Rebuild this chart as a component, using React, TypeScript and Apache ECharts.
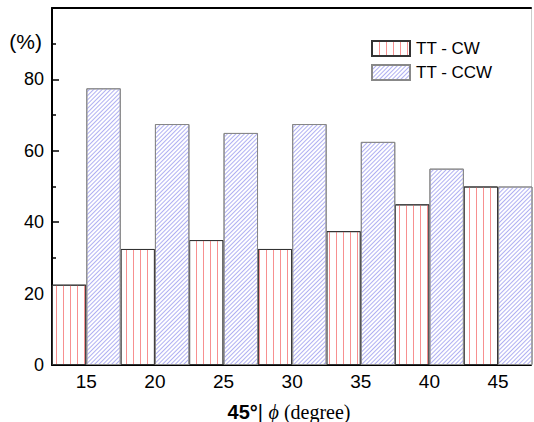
import React, { useEffect, useRef } from "react";
import * as echarts from "echarts";

const categories = [15, 20, 25, 30, 35, 40, 45];
const cwValues = [22.5, 32.5, 35, 32.5, 37.5, 45, 50];
const ccwValues = [77.5, 67.5, 65, 67.5, 62.5, 55, 50];
const seriesNames = ["TT - CW", "TT - CCW"];
const yUnitLabel = "(%)";

const X_MIN = 12.5;
const X_MAX = 47.4;
const GRID_LEFT = 52;
const GRID_RIGHT = 1;
const WIDTH = 534;
const HEIGHT = 422;

export default function App() {
  const ref = useRef<HTMLDivElement>(null);
  useEffect(() => {
    if (!ref.current) return;
    const chart = echarts.init(ref.current, null, { renderer: "svg" });
    const pxPerUnit = (WIDTH - GRID_LEFT - GRID_RIGHT) / (X_MAX - X_MIN);
    const barW = 2.5 * pxPerUnit;
    const sans = "Liberation Sans";
    chart.setOption({
      animation: false,
      backgroundColor: "#fff",
      grid: { left: GRID_LEFT, right: GRID_RIGHT, top: 8, bottom: 57, containLabel: false },
      legend: {
        orient: "vertical",
        left: 366,
        top: 35,
        itemWidth: 38,
        itemHeight: 15,
        itemGap: 7,
        icon: "rect",
        textStyle: { fontSize: 17, fontFamily: sans, color: "#000", padding: [0, 0, 0, 1] },
        data: seriesNames,
      },
      xAxis: [
        {
          type: "value",
          min: X_MIN,
          max: X_MAX,
          interval: 2.5,
          axisLine: { show: true, onZero: false, lineStyle: { color: "#000", width: 2 } },
          axisTick: { show: true, inside: true, length: 5, lineStyle: { color: "#000", width: 1.5 } },
          splitLine: { show: false },
          axisLabel: {
            margin: 7,
            fontSize: 19,
            fontFamily: sans,
            color: "#000",
            formatter: (v: number) => (categories.includes(v) ? String(v) : ""),
          },
        },
        {
          type: "value",
          position: "top",
          min: X_MIN,
          max: X_MAX,
          axisLine: { show: true, onZero: false, lineStyle: { color: "#000", width: 2 } },
          axisTick: { show: false },
          axisLabel: { show: false },
          splitLine: { show: false },
        },
      ],
      yAxis: [
        {
          type: "value",
          min: 0,
          max: 100,
          interval: 20,
          axisLine: { show: true, onZero: false, lineStyle: { color: "#000", width: 2 } },
          axisTick: { show: true, inside: true, length: 7, lineStyle: { color: "#000", width: 1.5 } },
          minorTick: { show: true, splitNumber: 2, length: 4, lineStyle: { color: "#000", width: 1.5 } },
          splitLine: { show: false },
          axisLabel: {
            margin: 8,
            fontSize: 18,
            fontFamily: sans,
            color: "#000",
            formatter: (v: number) => (v >= 100 ? "" : String(v)),
          },
        },
        {
          type: "value",
          position: "right",
          min: 0,
          max: 100,
          axisLine: { show: true, onZero: false, lineStyle: { color: "#ccc", width: 1 } },
          axisTick: { show: false },
          axisLabel: { show: false },
          splitLine: { show: false },
        },
      ],
      series: [
        {
          name: seriesNames[0],
          type: "bar",
          xAxisIndex: 0,
          yAxisIndex: 0,
          barWidth: barW,
          barGap: "0%",
          data: categories.map((c, i) => [c, cwValues[i]]),
          itemStyle: {
            color: "#fff",
            borderColor: "#333",
            borderWidth: 1,
            decal: {
              symbol: "rect",
              symbolSize: 1,
              dashArrayX: [1, 6],
              dashArrayY: [1, 0],
              rotation: 0,
              color: "#f79090",
            },
          },
        },
        {
          name: seriesNames[1],
          type: "bar",
          xAxisIndex: 0,
          yAxisIndex: 0,
          barWidth: barW,
          barGap: "0%",
          data: categories.map((c, i) => [c, ccwValues[i]]),
          itemStyle: {
            color: "#fff",
            borderColor: "#888",
            borderWidth: 1,
            decal: {
              symbol: "rect",
              symbolSize: 1,
              dashArrayX: [1, 0],
              dashArrayY: [1, 2],
              rotation: -Math.PI / 4,
              color: "#b0b0f2",
            },
          },
        },
      ],
      graphic: [
        {
          type: "text",
          right: WIDTH - 42,
          top: 31,
          style: { text: yUnitLabel, fontSize: 21, fontFamily: sans, fill: "#000" },
        },
        {
          type: "text",
          x: 289,
          y: 412,
          style: {
            text: "{a|45°}{b|| }{c|ϕ}{d| (degree)}",
            align: "center",
            verticalAlign: "middle",
            rich: {
              a: { fontSize: 20, fontWeight: "bold", fontFamily: sans, fill: "#000" },
              b: { fontSize: 20, fontFamily: sans, fill: "#000" },
              c: { fontSize: 20, fontStyle: "italic", fontFamily: "Liberation Serif", fill: "#000" },
              d: { fontSize: 20, fontFamily: "Liberation Serif", fill: "#000" },
            },
          },
        },
      ],
    });
    return () => chart.dispose();
  }, []);
  return (
    <div
      ref={ref}
      style={{ position: "fixed", left: 0, top: 0, width: WIDTH, height: HEIGHT }}
    />
  );
}
